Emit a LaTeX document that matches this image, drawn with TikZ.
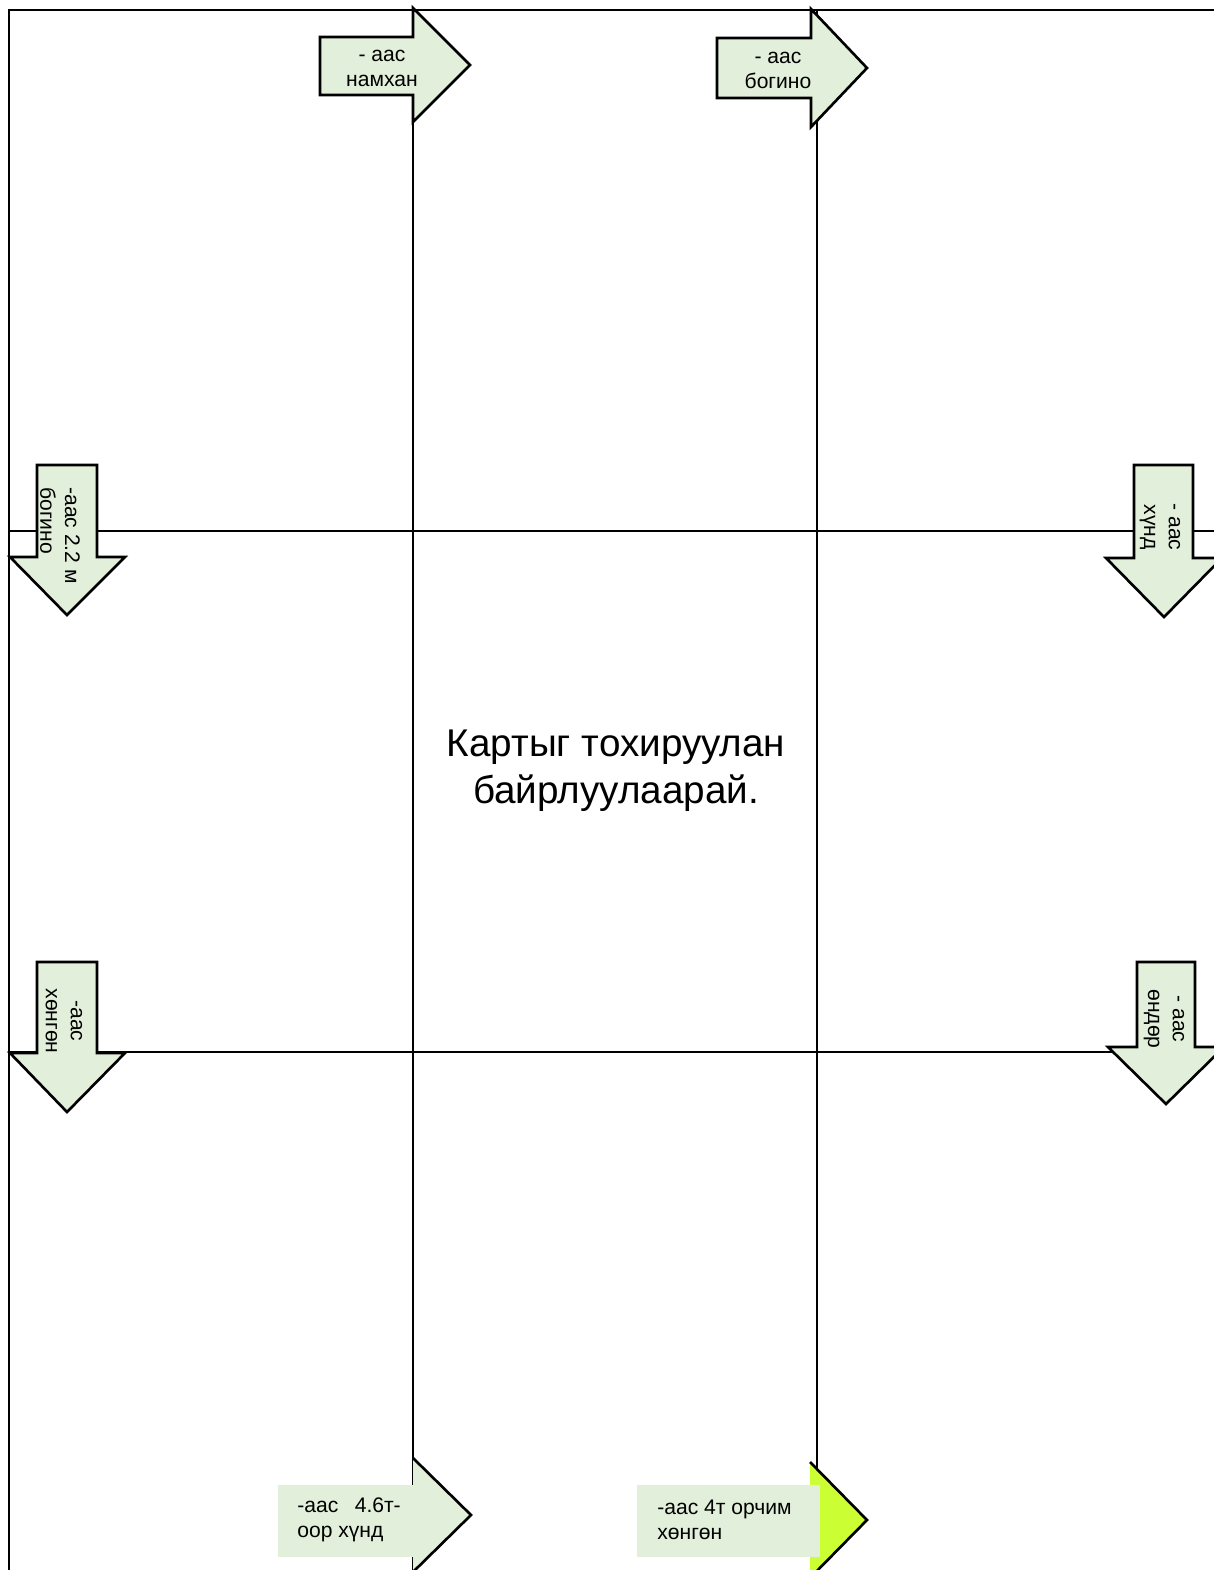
\documentclass[tikz,border=0pt]{standalone}
\usepackage{fontspec}
\setmainfont{Liberation Sans}
\definecolor{paleleaf}{HTML}{E2EFDA}
\definecolor{limeleaf}{HTML}{CCFF33}

\begin{document}
\begin{tikzpicture}[x=0.02cm,y=-0.02cm,
		grid/.style={line width=1.4pt},
		arrowbox/.style={draw,fill=paleleaf,line width=1.5pt,line join=miter},
		lbl/.style={font=\fontsize{12}{14.2}\selectfont,inner sep=0pt,align=center}]
			\useasboundingbox (0,0) rectangle (1214,1570);
			% grid of the card
			\draw [grid] (1214,10) -- (9,10) -- (9,1570);
			\draw [grid] (413,10) -- (413,1570);
			\draw [grid] (817,10) -- (817,1570);
			\draw [grid] (9,531) -- (1214,531);
			\draw [grid] (9,1052) -- (1214,1052);
			% top arrows
			\draw [arrowbox] (320,37) -- (413,37) -- (413,8) -- (470,65) -- (413,122) -- (413,95) -- (320,95) -- cycle;
			\draw [arrowbox] (717,38) -- (811,38) -- (811,9) -- (867,68) -- (811,127) -- (811,98) -- (717,98) -- cycle;
			\node (short1) [lbl] at (382,68) {- аас\\намхан};
			\node (short2) [lbl] at (778,70) {- аас\\богино};
			% side arrows
			\draw [arrowbox] (37,465) -- (97,465) -- (97,557) -- (125,557) -- (67,615) -- (10,557) -- (37,557) -- cycle;
			\draw [arrowbox] (1134,465) -- (1193,465) -- (1193,558) -- (1222,558) -- (1164,617) -- (1106,558) -- (1134,558) -- cycle;
			\draw [arrowbox] (37,962) -- (97,962) -- (97,1053) -- (125,1053) -- (67,1112) -- (10,1053) -- (37,1053) -- cycle;
			\draw [arrowbox] (1137,962) -- (1195,962) -- (1195,1047) -- (1224,1047) -- (1166,1104) -- (1108,1047) -- (1137,1047) -- cycle;
			\node (side1) [lbl,rotate=-90,anchor=west,align=left] at (60,487) {-аас 2.2 м\\богино};
			\node (side2) [lbl,rotate=-90] at (1160,527) {- аас\\хүнд};
			\node (side3) [lbl,rotate=-90] at (64,1021) {-аас\\хөнгөн};
			\node (side4) [lbl,rotate=-90] at (1164,1019) {- аас\\өндөр};
			% bottom arrows
			\fill [paleleaf] (278,1485) rectangle (413,1557);
			\draw [arrowbox] (413,1458) -- (471,1515) -- (413,1572);
			\draw [arrowbox,fill=limeleaf] (810,1462) -- (867,1520) -- (810,1578);
			\fill [paleleaf] (637,1485) rectangle (820,1557);
			\node (heavy) [lbl,anchor=west,align=left] at (297,1520) {-аас\hspace{0.78em}4.6т-\\оор хүнд};
			\node (light) [lbl,anchor=west,align=left] at (657,1520) {-аас 4т орчим\\хөнгөн};
			% centre text
			\node (msg) [font=\fontsize{22}{26.6}\selectfont,align=center] at (616,771) {Картыг тохируулан\\байрлуулаарай.};
		\end{tikzpicture}
\end{document}
